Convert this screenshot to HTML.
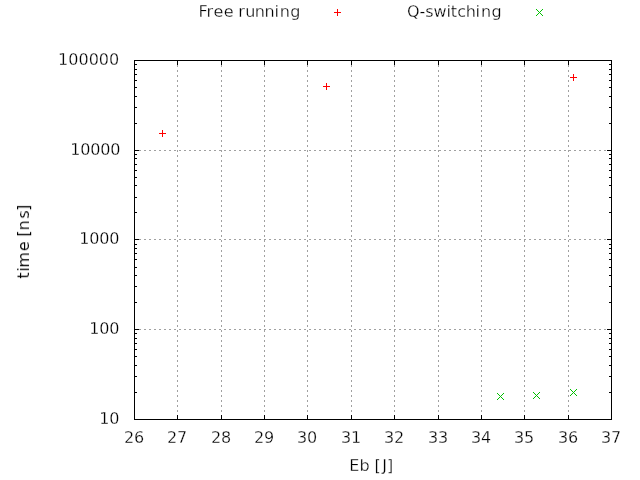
<!DOCTYPE html>
<html lang="en"><head><meta charset="utf-8"><title>Free running vs Q-switching</title>
<style>
html,body{margin:0;padding:0;background:#fff;}
body{width:640px;height:480px;overflow:hidden;}
svg{display:block;}
.t{will-change:transform;}
.n{letter-spacing:-0.18px;}
.t text{stroke:#fff;stroke-width:0.28px;}
.k{fill:#000;} .g{fill:#a0a0a0;}
text{font-family:"DejaVu Sans", "Liberation Sans", sans-serif;font-size:16px;fill:#000;}
.r{stroke:#ff0000;stroke-width:1;fill:none;} .q{stroke:#00c000;stroke-width:1;fill:none;}
</style></head><body>
<svg width="640" height="480" viewBox="0 0 640 480">
<rect x="0" y="0" width="640" height="480" fill="#fff"/>
<g stroke="#a0a0a0" stroke-width="1" stroke-dasharray="2 3" shape-rendering="crispEdges">
<line x1="177.5" y1="60" x2="177.5" y2="420"/>
<line x1="221.5" y1="60" x2="221.5" y2="420"/>
<line x1="264.5" y1="60" x2="264.5" y2="420"/>
<line x1="307.5" y1="60" x2="307.5" y2="420"/>
<line x1="351.5" y1="60" x2="351.5" y2="420"/>
<line x1="394.5" y1="60" x2="394.5" y2="420"/>
<line x1="438.5" y1="60" x2="438.5" y2="420"/>
<line x1="481.5" y1="60" x2="481.5" y2="420"/>
<line x1="524.5" y1="60" x2="524.5" y2="420"/>
<line x1="568.5" y1="60" x2="568.5" y2="420"/>
<line x1="134" y1="329.5" x2="612" y2="329.5"/>
<line x1="134" y1="239.5" x2="612" y2="239.5"/>
<line x1="134" y1="150.5" x2="612" y2="150.5"/>
</g>
<g class="k" shape-rendering="crispEdges">
<rect x="134" y="60" width="478" height="1"/>
<rect x="134" y="419" width="478" height="1"/>
<rect x="134" y="60" width="1" height="360"/>
<rect x="611" y="60" width="1" height="360"/>
<rect x="134" y="415" width="1" height="4"/>
<rect x="134" y="61" width="1" height="4"/>
<rect x="177" y="415" width="1" height="4"/>
<rect x="177" y="61" width="1" height="4"/>
<rect x="221" y="415" width="1" height="4"/>
<rect x="221" y="61" width="1" height="4"/>
<rect x="264" y="415" width="1" height="4"/>
<rect x="264" y="61" width="1" height="4"/>
<rect x="307" y="415" width="1" height="4"/>
<rect x="307" y="61" width="1" height="4"/>
<rect x="351" y="415" width="1" height="4"/>
<rect x="351" y="61" width="1" height="4"/>
<rect x="394" y="415" width="1" height="4"/>
<rect x="394" y="61" width="1" height="4"/>
<rect x="438" y="415" width="1" height="4"/>
<rect x="438" y="61" width="1" height="4"/>
<rect x="481" y="415" width="1" height="4"/>
<rect x="481" y="61" width="1" height="4"/>
<rect x="524" y="415" width="1" height="4"/>
<rect x="524" y="61" width="1" height="4"/>
<rect x="568" y="415" width="1" height="4"/>
<rect x="568" y="61" width="1" height="4"/>
<rect x="611" y="415" width="1" height="4"/>
<rect x="611" y="61" width="1" height="4"/>
<rect x="135" y="419" width="4" height="1"/>
<rect x="607" y="419" width="4" height="1"/>
<rect x="135" y="392" width="2" height="1"/>
<rect x="609" y="392" width="2" height="1"/>
<rect x="135" y="376" width="2" height="1"/>
<rect x="609" y="376" width="2" height="1"/>
<rect x="135" y="365" width="2" height="1"/>
<rect x="609" y="365" width="2" height="1"/>
<rect x="135" y="356" width="2" height="1"/>
<rect x="609" y="356" width="2" height="1"/>
<rect x="135" y="349" width="2" height="1"/>
<rect x="609" y="349" width="2" height="1"/>
<rect x="135" y="343" width="2" height="1"/>
<rect x="609" y="343" width="2" height="1"/>
<rect x="135" y="338" width="2" height="1"/>
<rect x="609" y="338" width="2" height="1"/>
<rect x="135" y="333" width="2" height="1"/>
<rect x="609" y="333" width="2" height="1"/>
<rect x="135" y="329" width="4" height="1"/>
<rect x="607" y="329" width="4" height="1"/>
<rect x="135" y="302" width="2" height="1"/>
<rect x="609" y="302" width="2" height="1"/>
<rect x="135" y="286" width="2" height="1"/>
<rect x="609" y="286" width="2" height="1"/>
<rect x="135" y="275" width="2" height="1"/>
<rect x="609" y="275" width="2" height="1"/>
<rect x="135" y="267" width="2" height="1"/>
<rect x="609" y="267" width="2" height="1"/>
<rect x="135" y="259" width="2" height="1"/>
<rect x="609" y="259" width="2" height="1"/>
<rect x="135" y="253" width="2" height="1"/>
<rect x="609" y="253" width="2" height="1"/>
<rect x="135" y="248" width="2" height="1"/>
<rect x="609" y="248" width="2" height="1"/>
<rect x="135" y="244" width="2" height="1"/>
<rect x="609" y="244" width="2" height="1"/>
<rect x="135" y="239" width="4" height="1"/>
<rect x="607" y="239" width="4" height="1"/>
<rect x="135" y="212" width="2" height="1"/>
<rect x="609" y="212" width="2" height="1"/>
<rect x="135" y="197" width="2" height="1"/>
<rect x="609" y="197" width="2" height="1"/>
<rect x="135" y="185" width="2" height="1"/>
<rect x="609" y="185" width="2" height="1"/>
<rect x="135" y="177" width="2" height="1"/>
<rect x="609" y="177" width="2" height="1"/>
<rect x="135" y="170" width="2" height="1"/>
<rect x="609" y="170" width="2" height="1"/>
<rect x="135" y="164" width="2" height="1"/>
<rect x="609" y="164" width="2" height="1"/>
<rect x="135" y="158" width="2" height="1"/>
<rect x="609" y="158" width="2" height="1"/>
<rect x="135" y="154" width="2" height="1"/>
<rect x="609" y="154" width="2" height="1"/>
<rect x="135" y="150" width="4" height="1"/>
<rect x="607" y="150" width="4" height="1"/>
<rect x="135" y="123" width="2" height="1"/>
<rect x="609" y="123" width="2" height="1"/>
<rect x="135" y="107" width="2" height="1"/>
<rect x="609" y="107" width="2" height="1"/>
<rect x="135" y="96" width="2" height="1"/>
<rect x="609" y="96" width="2" height="1"/>
<rect x="135" y="87" width="2" height="1"/>
<rect x="609" y="87" width="2" height="1"/>
<rect x="135" y="80" width="2" height="1"/>
<rect x="609" y="80" width="2" height="1"/>
<rect x="135" y="74" width="2" height="1"/>
<rect x="609" y="74" width="2" height="1"/>
<rect x="135" y="69" width="2" height="1"/>
<rect x="609" y="69" width="2" height="1"/>
<rect x="135" y="64" width="2" height="1"/>
<rect x="609" y="64" width="2" height="1"/>
<rect x="135" y="60" width="4" height="1"/>
<rect x="607" y="60" width="4" height="1"/>
</g>
<g shape-rendering="crispEdges">
<path class="r" d="M159 133.5H166 M162.5 130V137"/>
<path class="r" d="M323 86.5H330 M326.5 83V90"/>
<path class="r" d="M570 77.5H577 M573.5 74V81"/>
<path class="r" d="M334 12.5H341 M337.5 9V16"/>
</g><g shape-rendering="crispEdges">
<path fill="#00c000" d="M497 393h1v1h-1zM497 399h1v1h-1zM498 394h1v1h-1zM498 398h1v1h-1zM499 395h1v1h-1zM499 397h1v1h-1zM500 396h1v1h-1zM501 397h1v1h-1zM501 395h1v1h-1zM502 398h1v1h-1zM502 394h1v1h-1zM503 399h1v1h-1zM503 393h1v1h-1z"/>
<path fill="#00c000" d="M533 392h1v1h-1zM533 398h1v1h-1zM534 393h1v1h-1zM534 397h1v1h-1zM535 394h1v1h-1zM535 396h1v1h-1zM536 395h1v1h-1zM537 396h1v1h-1zM537 394h1v1h-1zM538 397h1v1h-1zM538 393h1v1h-1zM539 398h1v1h-1zM539 392h1v1h-1z"/>
<path fill="#00c000" d="M570 389h1v1h-1zM570 395h1v1h-1zM571 390h1v1h-1zM571 394h1v1h-1zM572 391h1v1h-1zM572 393h1v1h-1zM573 392h1v1h-1zM574 393h1v1h-1zM574 391h1v1h-1zM575 394h1v1h-1zM575 390h1v1h-1zM576 395h1v1h-1zM576 389h1v1h-1z"/>
<path fill="#00c000" d="M536 9h1v1h-1zM536 15h1v1h-1zM537 10h1v1h-1zM537 14h1v1h-1zM538 11h1v1h-1zM538 13h1v1h-1zM539 12h1v1h-1zM540 13h1v1h-1zM540 11h1v1h-1zM541 14h1v1h-1zM541 10h1v1h-1zM542 15h1v1h-1zM542 9h1v1h-1z"/>
</g>
<g class="t">
<text x="198.5 206.6 213.6 223.7 232.9 238.35 245.15 254.75 264.6 274.45 279.8 290.2" y="17">Free running</text>
<text x="407 419.6 425.3 433.6 446.5 450.7 457.35 465.75 475.45 480.95 491.4" y="17">Q-switching</text>
<text class="n" x="119.2" y="424" text-anchor="end">10</text>
<text class="n" x="119.2" y="334" text-anchor="end">100</text>
<text class="n" x="119.2" y="244" text-anchor="end">1000</text>
<text class="n" x="120.2" y="155" text-anchor="end">10000</text>
<text x="119.2" y="65" text-anchor="end">100000</text>
<text x="134.1" y="443" text-anchor="middle">26</text>
<text x="177.1" y="443" text-anchor="middle">27</text>
<text x="221.1" y="443" text-anchor="middle">28</text>
<text x="264.1" y="443" text-anchor="middle">29</text>
<text x="307.1" y="443" text-anchor="middle">30</text>
<text x="351.1" y="443" text-anchor="middle">31</text>
<text x="394.1" y="443" text-anchor="middle">32</text>
<text x="438.1" y="443" text-anchor="middle">33</text>
<text x="481.1" y="443" text-anchor="middle">34</text>
<text x="524.1" y="443" text-anchor="middle">35</text>
<text x="568.1" y="443" text-anchor="middle">36</text>
<text x="611.1" y="443" text-anchor="middle">37</text>
<text x="349.3 359.4 369.5 374.4 382.3 387" y="471">Eb [J]</text>
<text transform="translate(29,241.2) rotate(-90)" x="-37.5 -30.5 -26.45 -10.1 0.1 4.5 10.7 22.6 30.2" y="0" style="stroke-width:0.1px">time [ns]</text>
</g>
</svg></body></html>
